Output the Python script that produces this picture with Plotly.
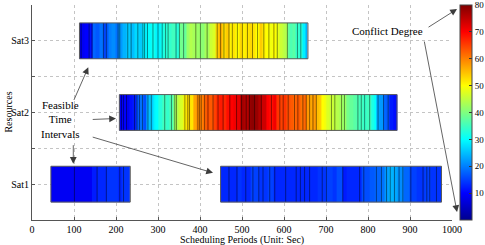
import plotly.graph_objects as go

# ---------------- data ----------------
resources = ["Sat1", "Sat2", "Sat3"]
res_pos = [1, 2, 3]

# Sat3 feasible interval: segment starts, conflict degree per segment, end
sat3_starts = [113, 125, 135, 145, 152, 160, 169, 175, 181, 190, 198, 205, 215, 225, 235, 245, 255, 264,
               275, 285, 295, 305, 312, 322, 332, 341, 351, 359, 367, 375, 383, 391, 400, 410, 422, 430,
               437, 445, 453, 461, 469, 477, 485, 493, 501, 509, 517, 525, 533, 541, 549, 557, 565, 573,
               581, 588, 596, 602, 608, 614, 620, 628, 636, 644, 650]
sat3_vals = [9, 10, 11, 18, 17, 19, 15, 17, 20, 21, 19, 22, 24, 26, 25, 27, 26, 29,
             30, 31, 29, 31, 33, 34, 35, 33, 39, 38, 42, 44, 43, 42, 41, 43, 46, 47,
             53, 56, 52, 54, 51, 52, 50, 53, 51, 52, 53, 52, 50, 54, 51, 50, 49, 50,
             48, 46, 45, 44, 38, 36, 37, 34, 33, 29, 24]
sat3_end = 657
sat3_dark = [117, 136, 143, 170, 177, 205, 209, 228, 236, 252, 264, 268, 275, 288, 300, 310, 318, 324,
             343, 351, 361, 390, 401, 417, 441, 449, 457, 469, 477, 489, 501, 513, 525, 537, 552, 564,
             576, 584, 608, 632, 640]

# Sat2 feasible interval
sat2_starts = [208, 216, 224, 232, 240, 248, 256, 264, 272, 280, 288, 294, 300, 310, 320, 328, 336, 342,
               348, 354, 360, 368, 376, 384, 391, 399, 407, 415, 423, 431, 439, 447, 455, 463, 471, 479,
               487, 495, 505, 514, 522, 530, 538, 546, 558, 566, 574, 582, 590, 598, 606, 614, 622, 630,
               638, 646, 653, 660, 668, 677, 683, 689, 695, 701, 709, 717, 724, 732, 740, 748, 756, 764,
               772, 780, 788, 796, 808, 814, 820, 828, 836, 844, 852, 860]
sat2_vals = [9, 10, 9, 11, 12, 17, 19, 16, 24, 26, 29, 30, 33, 35, 34, 36, 41, 44,
             46, 47, 51, 53, 52, 57, 59, 60, 62, 64, 63, 65, 67, 68, 67, 69, 70, 71,
             72, 77, 76, 78, 79, 78, 76, 74, 70, 69, 71, 66, 65, 66, 64, 63, 62, 63,
             61, 62, 58, 57, 58, 55, 54, 50, 49, 47, 46, 45, 44, 43, 42, 39, 38, 37,
             36, 35, 34, 35, 32, 30, 23, 22, 18, 17, 12, 11]
sat2_end = 869
sat2_dark = [213, 218, 225, 244, 250, 256, 263, 276, 284, 316, 332, 340, 344, 364, 371, 375, 395, 399,
             403, 411, 419, 431, 443, 455, 471, 487, 499, 510, 518, 530, 546, 570, 590, 598, 610, 625,
             633, 645, 653, 661, 669, 677, 713, 721, 737, 744, 776, 784, 792, 804, 824, 837, 848]

# Sat1 feasible intervals (two)
sat1a_starts = [45, 143, 155, 178, 205, 215]
sat1a_vals = [9, 12, 13, 14, 13, 14]
sat1a_end = 234
sat1a_dark = [101, 155, 177, 209, 218]

sat1b_starts = [449, 470, 490, 500, 520, 540, 560, 575, 600, 640, 680, 700, 715, 725, 740, 750, 785,
                803, 815, 830, 840, 850, 860, 870, 885, 900, 915, 935, 950]
sat1b_vals = [13, 13, 14, 13, 15, 14, 15, 13, 13, 13, 14, 15, 14, 16, 12, 13, 16,
              17, 18, 19, 22, 24, 23, 21, 18, 15, 14, 15, 14]
sat1b_end = 975
sat1b_dark = [469, 488, 509, 526, 540, 550, 566, 578, 604, 629, 639, 649, 661, 691, 701, 740, 780,
              790, 820, 832, 844, 853, 863, 874, 883, 902, 931, 940, 947, 963]

intervals = [
    (3, sat3_starts, sat3_vals, sat3_end, sat3_dark),
    (2, sat2_starts, sat2_vals, sat2_end, sat2_dark),
    (1, sat1a_starts, sat1a_vals, sat1a_end, sat1a_dark),
    (1, sat1b_starts, sat1b_vals, sat1b_end, sat1b_dark),
]

x_ticks = list(range(0, 1001, 100))
cbar_ticks = [10, 20, 30, 40, 50, 60, 70, 80]

# ---------------- style ----------------
FONT = "Liberation Serif"
jet = [[0.0, "rgb(0,0,143)"], [0.125, "rgb(0,0,255)"], [0.375, "rgb(0,255,255)"],
       [0.625, "rgb(255,255,0)"], [0.875, "rgb(255,0,0)"], [1.0, "rgb(128,0,0)"]]
HALF = 0.25

fig = go.Figure()
shapes = []
for i, (yc, starts, vals, end, dark) in enumerate(intervals):
    edges = list(starts) + [end]
    fig.add_trace(go.Heatmap(
        x=edges, y=[yc - HALF, yc + HALF], z=[vals],
        colorscale=jet, zmin=0, zmax=80, zsmooth=False,
        showscale=(i == 0), hoverinfo="skip",
        colorbar=dict(
            x=1.019, xanchor="left", xpad=0, ypad=0, y=0.5, yanchor="middle",
            len=1, lenmode="fraction", thickness=12,
            tickvals=cbar_ticks, ticks="inside", ticklen=3, tickcolor="#333",
            outlinecolor="#444", outlinewidth=1,
            tickfont=dict(family=FONT, size=9, color="#000"),
        ),
    ))
    lx, ly = [], []
    for d in dark:
        lx += [d, d, None]
        ly += [yc - HALF, yc + HALF, None]
    fig.add_trace(go.Scatter(x=lx, y=ly, mode="lines",
                             line=dict(color="rgba(0,0,0,0.45)", width=1),
                             hoverinfo="skip", showlegend=False))
    shapes.append(dict(type="rect", xref="x", yref="y", x0=starts[0], x1=end,
                       y0=yc - HALF, y1=yc + HALF, line=dict(color="rgb(90,90,90)", width=1),
                       fillcolor="rgba(0,0,0,0)", layer="above"))

ARW = dict(showarrow=True, arrowhead=2, arrowsize=1.7, arrowwidth=0.8,
           arrowcolor="rgb(60,60,60)", text="", standoff=0, startstandoff=0)
annotations = [
    dict(x=67, y=1.902, xref="x", yref="y", text="Feasible<br>Time<br>Intervals", showarrow=False,
         font=dict(family=FONT, size=11, color="#000"), align="center"),
    dict(x=847, y=3.136, xref="x", yref="y", text="Conflict Degree", showarrow=False,
         font=dict(family=FONT, size=11, color="#000")),
    dict(x=134, y=2.631, ax=98.3, ay=2.154, xref="x", yref="y", axref="x", ayref="y", **ARW),
    dict(x=200, y=1.916, ax=141, ay=1.902, xref="x", yref="y", axref="x", ayref="y", **ARW),
    dict(x=98.3, y=1.285, ax=98.3, ay=1.565, xref="x", yref="y", axref="x", ayref="y", **ARW),
    dict(x=431, y=1.158, ax=141, ay=1.663, xref="x", yref="y", axref="x", ayref="y", **ARW),
    dict(x=1.012, y=0.981, ax=-30, ay=19, xref="paper", yref="paper", axref="pixel", ayref="pixel", **ARW),
    dict(x=1.012, y=0.037, ax=-33, ay=-172, xref="paper", yref="paper", axref="pixel", ayref="pixel", **ARW),
    # axis titles
    dict(x=0.5, y=-0.093, xref="paper", yref="paper", text="Scheduling Periods (Unit: Sec)",
         showarrow=False, font=dict(family=FONT, size=10, color="#000"), yanchor="middle"),
    dict(x=-0.057, y=0.5, xref="paper", yref="paper", text="Resources", textangle=-90,
         showarrow=False, font=dict(family=FONT, size=10, color="#000"), xanchor="center"),
]

fig.update_layout(
    width=485, height=245,
    margin=dict(l=32, r=33, t=5, b=25, autoexpand=False),
    paper_bgcolor="white", plot_bgcolor="white",
    showlegend=False,
    font=dict(family=FONT, size=10, color="#000"),
    shapes=shapes, annotations=annotations,
    xaxis=dict(range=[0, 1000], tickvals=x_ticks, ticks="inside", ticklen=3, tickcolor="#555",
               showline=True, linecolor="#555", linewidth=1, automargin=False,
               showgrid=True, gridcolor="#c4c4c4", griddash="dot", gridwidth=1, zeroline=False,
               tickfont=dict(family=FONT, size=10)),
    yaxis=dict(range=[0.5, 3.5], tickvals=[0.5, 1, 1.5, 2, 2.5, 3, 3.5],
               ticktext=["", "Sat1", "", "Sat2", "", "Sat3", ""],
               ticks="inside", ticklen=3, tickcolor="#555", automargin=False,
               showline=True, linecolor="#555", linewidth=1,
               showgrid=True, gridcolor="#c4c4c4", griddash="dot", gridwidth=1, zeroline=False,
               tickfont=dict(family=FONT, size=10)),
)

fig.write_html("out.html", config={"displayModeBar": False},
               post_script="document.body.style.margin='0';document.body.style.overflow='hidden';")
